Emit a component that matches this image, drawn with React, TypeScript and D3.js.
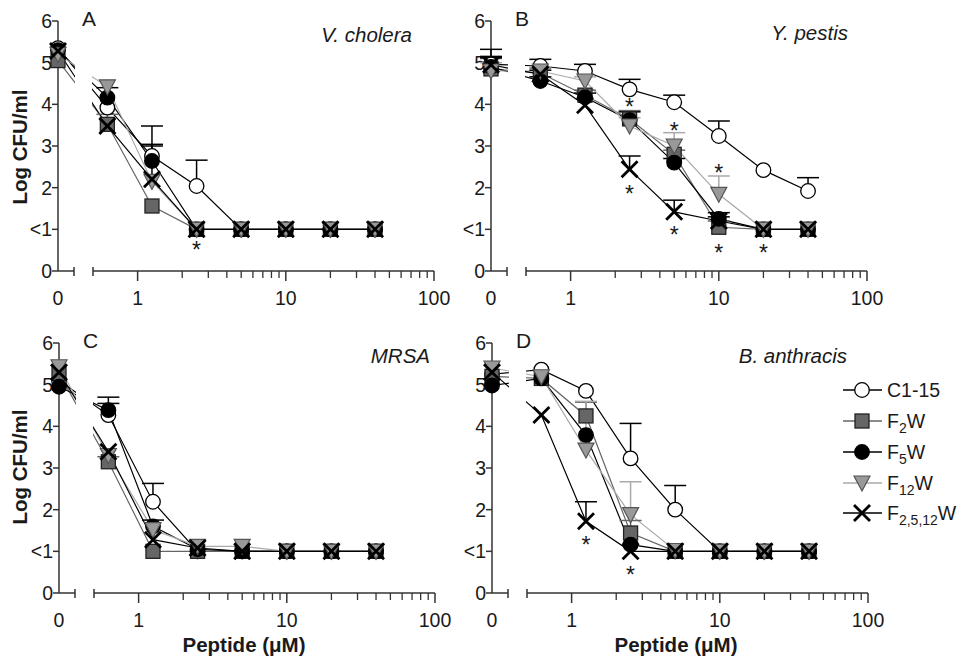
import React from 'react';
import * as d3 from 'd3';

// ---------- DATA ----------
const concentrations = [0, 0.625, 1.25, 2.5, 5, 10, 20, 40];
const seriesNames = ['C1-15', 'F2W', 'F5W', 'F12W', 'F2,5,12W'];
const yTickValues = [0, 1, 2, 3, 4, 5, 6];
const yTickLabels = ['0', '<1', '2', '3', '4', '5', '6'];
const xMajorTicks = [1, 10, 100];
const xMajorLabels = ['1', '10', '100'];
const panelLetters = ['A', 'B', 'C', 'D'];
const speciesNames = ['V. cholera', 'Y. pestis', 'MRSA', 'B. anthracis'];

// Panel A — V. cholera
const vcC115 = [5.35, 3.92, 2.76, 2.04, 1, 1, 1, 1];
const vcC115Err = [0, 0, 0.72, 0.62, 0, 0, 0, 0];
const vcF2W = [5.05, 3.52, 1.56, 1, 1, 1, 1, 1];
const vcF2WErr = [0, 0.24, 0, 0, 0, 0, 0, 0];
const vcF5W = [5.3, 4.16, 2.64, 1, 1, 1, 1, 1];
const vcF5WErr = [0, 0.24, 0.4, 0, 0, 0, 0, 0];
const vcF12W = [5.2, 4.42, 2.15, 1, 1, 1, 1, 1];
const vcF12WErr = [0, 0, 0, 0, 0, 0, 0, 0];
const vcF2512W = [5.28, 3.48, 2.2, 1, 1, 1, 1, 1];
const vcF2512WErr = [0, 0, 0.8, 0, 0, 0, 0, 0];
const vcStars = [[2.5, 0.62]];

// Panel B — Y. pestis
const ypC115 = [4.96, 4.92, 4.8, 4.36, 4.05, 3.24, 2.42, 1.92];
const ypC115Err = [0.36, 0.16, 0.16, 0.24, 0.17, 0.36, 0, 0.32];
const ypF2W = [4.85, 4.75, 4.22, 3.65, 2.8, 1.05, 1, 1];
const ypF2WErr = [0.25, 0.12, 0.12, 0.2, 0.1, 0.15, 0, 0];
const ypF5W = [4.9, 4.56, 4.17, 3.62, 2.6, 1.25, 1, 1];
const ypF5WErr = [0.22, 0.1, 0.1, 0.2, 0.1, 0.15, 0, 0];
const ypF12W = [4.8, 4.8, 4.56, 3.48, 3.0, 1.84, 1, 1];
const ypF12WErr = [0.2, 0.1, 0.1, 0.2, 0.32, 0.44, 0, 0];
const ypF2512W = [4.95, 4.72, 3.98, 2.44, 1.42, 1.2, 1, 1];
const ypF2512WErr = [0.2, 0.1, 0, 0.32, 0.28, 0.1, 0, 0];
const ypStars = [[2.5, 4.06], [2.5, 1.96], [5, 3.48], [5, 0.98], [10, 2.48], [10, 0.56], [20, 0.56]];

// Panel C — MRSA
const mrC115 = [5.1, 4.27, 2.19, 1, 1, 1, 1, 1];
const mrC115Err = [0, 0.28, 0.44, 0, 0, 0, 0, 0];
const mrF2W = [5.27, 3.15, 1.0, 1, 1, 1, 1, 1];
const mrF2WErr = [0, 0.12, 0, 0, 0, 0, 0, 0];
const mrF5W = [4.95, 4.39, 1.6, 1.05, 1, 1, 1, 1];
const mrF5WErr = [0, 0.31, 0.15, 0, 0, 0, 0, 0];
const mrF12W = [5.43, 3.3, 1.52, 1.12, 1.12, 1, 1, 1];
const mrF12WErr = [0, 0, 0, 0, 0, 0, 0, 0];
const mrF2512W = [5.3, 3.39, 1.28, 1.08, 1.0, 1, 1, 1];
const mrF2512WErr = [0, 0, 0, 0, 0, 0, 0, 0];
const mrStars: number[][] = [];

// Panel D — B. anthracis
const baC115 = [5.25, 5.36, 4.85, 3.23, 2.0, 1, 1, 1];
const baC115Err = [0, 0, 0, 0.84, 0.58, 0, 0, 0];
const baF2W = [5.2, 5.15, 4.25, 1.44, 1, 1, 1, 1];
const baF2WErr = [0, 0, 0.33, 0.3, 0, 0, 0, 0];
const baF5W = [4.98, 5.15, 3.79, 1.16, 1, 1, 1, 1];
const baF5WErr = [0, 0, 0, 0, 0, 0, 0, 0];
const baF12W = [5.4, 5.19, 3.43, 1.88, 1.02, 1, 1, 1];
const baF12WErr = [0, 0, 1.17, 0.79, 0, 0, 0, 0];
const baF2512W = [5.3, 4.27, 1.72, 1.0, 1, 1, 1, 1];
const baF2512WErr = [0, 0, 0.47, 0, 0, 0, 0, 0];
const baStars = [[1.25, 1.28], [2.5, 0.56]];

const panelsData = [
  { means: [vcC115, vcF2W, vcF5W, vcF12W, vcF2512W], errs: [vcC115Err, vcF2WErr, vcF5WErr, vcF12WErr, vcF2512WErr], stars: vcStars },
  { means: [ypC115, ypF2W, ypF5W, ypF12W, ypF2512W], errs: [ypC115Err, ypF2WErr, ypF5WErr, ypF12WErr, ypF2512WErr], stars: ypStars },
  { means: [mrC115, mrF2W, mrF5W, mrF12W, mrF2512W], errs: [mrC115Err, mrF2WErr, mrF5WErr, mrF12WErr, mrF2512WErr], stars: mrStars },
  { means: [baC115, baF2W, baF5W, baF12W, baF2512W], errs: [baC115Err, baF2WErr, baF5WErr, baF12WErr, baF2512WErr], stars: baStars },
];

// ---------- STYLE / LAYOUT ----------
const FONT = "Arial, 'Liberation Sans', Helvetica, sans-serif";
const AXIS = '#333';
const TXT = '#1a1a1a';
const styles = [
  { shape: 'circle', fill: '#fff', stroke: '#000', line: '#000' },
  { shape: 'square', fill: '#666', stroke: '#222', line: '#666' },
  { shape: 'circle', fill: '#000', stroke: '#000', line: '#000' },
  { shape: 'tri', fill: '#999', stroke: '#555', line: '#aaa' },
  { shape: 'x', fill: 'none', stroke: '#000', line: '#000' },
];
const layouts = [
  { ax: 58, top: 21, speciesX: 412, speciesY: 42 },
  { ax: 491, top: 21, speciesX: 848, speciesY: 40 },
  { ax: 59, top: 343, speciesX: 430, speciesY: 363 },
  { ax: 492, top: 343, speciesX: 847, speciesY: 363 },
];

function Marker({ shape, x, y, fill, stroke }: any) {
  if (shape === 'circle') return <circle cx={x} cy={y} r={7.3} fill={fill} stroke={stroke} strokeWidth={1.3} />;
  if (shape === 'square') return <rect x={x - 7} y={y - 7} width={14} height={14} fill={fill} stroke={stroke} strokeWidth={1.3} />;
  if (shape === 'tri')
    return <path d={`M${x - 8},${y - 7}L${x + 8},${y - 7}L${x},${y + 8}Z`} fill={fill} stroke={stroke} strokeWidth={1.2} />;
  return (
    <g stroke={stroke} strokeWidth={2.8}>
      <line x1={x - 8} y1={y - 8} x2={x + 8} y2={y + 8} />
      <line x1={x - 8} y1={y + 8} x2={x + 8} y2={y - 8} />
    </g>
  );
}

function Panel({ idx }: { idx: number }) {
  const L = layouts[idx];
  const D = panelsData[idx];
  const ax = L.ax;
  const segEnd = ax + 16;
  const logStart = ax + 35;
  const logEnd = ax + 376;
  const y = d3.scaleLinear().domain([0, 6]).range([L.top + 250, L.top]);
  const xl = d3.scaleLog().domain([0.5, 100]).range([logStart, logEnd]);
  const xp = (c: number) => (c === 0 ? ax : xl(c));
  const y0 = y(0);
  const minor: number[] = [];
  [1, 10].forEach((d) => { for (let k = 2; k <= 9; k++) minor.push(d * k); });
  const line = d3.line<number>().x((_, i) => xp(concentrations[i])).y((v) => y(v));
  const clipId = `clip${idx}`;
  return (
    <g>
      <defs>
        <clipPath id={clipId}>
          <rect x={ax - 20} y={0} width={segEnd + 1 - (ax - 20)} height={658} />
          <rect x={logStart - 1} y={0} width={972} height={658} />
        </clipPath>
      </defs>
      {/* y axis */}
      <line x1={ax} y1={y(0)} x2={ax} y2={y(6)} stroke={AXIS} strokeWidth={1.5} />
      {yTickValues.map((v, i) => (
        <g key={i}>
          <line x1={ax - 6} x2={ax} y1={y(v)} y2={y(v)} stroke={AXIS} strokeWidth={1.5} />
          <text x={ax - 6} y={y(v) + 7} textAnchor="end" fontSize={19.5} fontFamily={FONT} fill={TXT}>{yTickLabels[i]}</text>
        </g>
      ))}
      {/* x axis */}
      <line x1={ax} x2={segEnd} y1={y0} y2={y0} stroke={AXIS} strokeWidth={1.5} />
      <line x1={segEnd} x2={segEnd} y1={y0 - 4} y2={y0 + 5} stroke={AXIS} strokeWidth={1.5} />
      <line x1={logStart} x2={logEnd} y1={y0} y2={y0} stroke={AXIS} strokeWidth={1.5} />
      <line x1={logStart} x2={logStart} y1={y0 - 4} y2={y0 + 5} stroke={AXIS} strokeWidth={1.5} />
      {xMajorTicks.map((t) => (
        <line key={t} x1={xl(t)} x2={xl(t)} y1={y0} y2={y0 + 10} stroke={AXIS} strokeWidth={1.5} />
      ))}
      {minor.map((t) => (
        <line key={t} x1={xl(t)} x2={xl(t)} y1={y0} y2={y0 + 7} stroke={AXIS} strokeWidth={1.3} />
      ))}
      <text x={ax} y={y0 + 34} textAnchor="middle" fontSize={19.5} fontFamily={FONT} fill={TXT}>0</text>
      {xMajorTicks.map((t, i) => (
        <text key={t} x={xl(t)} y={y0 + 34} textAnchor="middle" fontSize={19.5} fontFamily={FONT} fill={TXT}>{xMajorLabels[i]}</text>
      ))}
      {/* labels */}
      <text x={ax + 24} y={L.top + 5} fontSize={21} fontFamily={FONT} fill={TXT}>{panelLetters[idx]}</text>
      <text x={L.speciesX} y={L.speciesY} textAnchor="end" fontSize={20.5} fontStyle="italic" fontFamily={FONT} fill={TXT}>{speciesNames[idx]}</text>
      {/* lines */}
      <g clipPath={`url(#${clipId})`}>
        {D.means.map((m, s) => (
          <path key={s} d={line(m) || ''} fill="none" stroke={styles[s].line} strokeWidth={1.2} />
        ))}
      </g>
      {/* error bars */}
      {D.means.map((m, s) =>
        m.map((v, i) => {
          const e = D.errs[s][i];
          if (!e) return null;
          const x = xp(concentrations[i]);
          return (
            <g key={`${s}-${i}`} stroke={styles[s].line} strokeWidth={1.5}>
              <line x1={x} x2={x} y1={y(v)} y2={y(v + e)} />
              <line x1={x - 11} x2={x + 11} y1={y(v + e)} y2={y(v + e)} />
            </g>
          );
        })
      )}
      {/* markers */}
      {D.means.map((m, s) =>
        m.map((v, i) => (
          <Marker key={`m${s}-${i}`} shape={styles[s].shape} x={xp(concentrations[i])} y={y(v)} fill={styles[s].fill} stroke={styles[s].stroke} />
        ))
      )}
      {/* significance stars */}
      {D.stars.map(([c, v], i) => (
        <text key={`st${i}`} x={xp(c)} y={y(v) + 13} textAnchor="middle" fontSize={23} fontFamily={FONT} fill={TXT}>*</text>
      ))}
    </g>
  );
}

function LegendLabel({ name }: { name: string }) {
  const m = name.match(/^F(.+)W$/);
  if (!m) return <tspan>{name}</tspan>;
  return (
    <>
      <tspan>F</tspan>
      <tspan dy={5} fontSize={14}>{m[1]}</tspan>
      <tspan dy={-5}>W</tspan>
    </>
  );
}

export default function App() {
  const legendY = [390, 421, 452, 483, 513];
  return (
    <svg width={972} height={658} style={{ position: 'absolute', left: 0, top: 0, background: '#fff' }}>
      <rect width={972} height={658} fill="#fff" />
      {[0, 1, 2, 3].map((i) => <Panel key={i} idx={i} />)}
      {/* axis titles */}
      <text transform="translate(27,147) rotate(-90)" textAnchor="middle" fontSize={20.5} fontWeight="bold" fontFamily={FONT} fill={TXT}>Log CFU/ml</text>
      <text transform="translate(27,467) rotate(-90)" textAnchor="middle" fontSize={20.5} fontWeight="bold" fontFamily={FONT} fill={TXT}>Log CFU/ml</text>
      <text x={244} y={652} textAnchor="middle" fontSize={20.5} fontWeight="bold" fontFamily={FONT} fill={TXT}>Peptide (μM)</text>
      <text x={676} y={652} textAnchor="middle" fontSize={20.5} fontWeight="bold" fontFamily={FONT} fill={TXT}>Peptide (μM)</text>
      {/* legend */}
      {seriesNames.map((n, s) => (
        <g key={n}>
          <line x1={843} x2={882} y1={legendY[s]} y2={legendY[s]} stroke={styles[s].line} strokeWidth={1.3} />
          <Marker shape={styles[s].shape} x={862} y={legendY[s]} fill={styles[s].fill} stroke={styles[s].stroke} />
          <text x={887} y={legendY[s] + 7} fontSize={19.5} fontFamily={FONT} fill={TXT}>
            <LegendLabel name={n} />
          </text>
        </g>
      ))}
    </svg>
  );
}
